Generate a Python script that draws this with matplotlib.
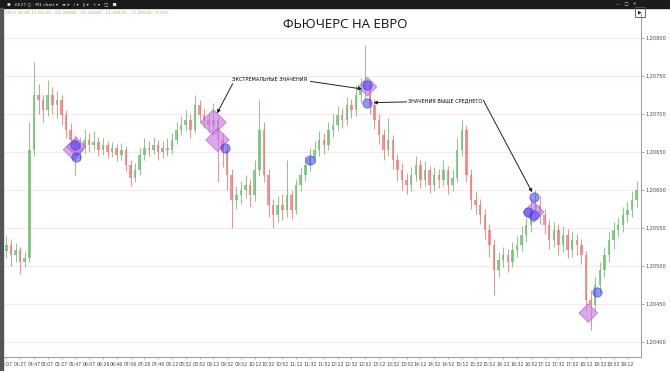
import numpy as np
import matplotlib.pyplot as plt
from matplotlib.patches import Rectangle

# candle data (M1 chart, one bar per ~7 min)
first_open = 1.20520
close = [1.20528, 1.20514, 1.20521, 1.20505, 1.20510, 1.20653, 1.20725, 1.20718, 1.20705, 1.20725,
         1.20712, 1.20718, 1.20699, 1.20679, 1.20666, 1.20650, 1.20655, 1.20666, 1.20659, 1.20663,
         1.20653, 1.20659, 1.20650, 1.20655, 1.20646, 1.20653, 1.20633, 1.20616, 1.20626, 1.20646,
         1.20655, 1.20653, 1.20659, 1.20650, 1.20655, 1.20653, 1.20666, 1.20679, 1.20686, 1.20692,
         1.20679, 1.20712, 1.20699, 1.20692, 1.20686, 1.20692, 1.20666, 1.20653, 1.20620, 1.20587,
         1.20593, 1.20600, 1.20607, 1.20593, 1.20626, 1.20679, 1.20620, 1.20580, 1.20567, 1.20580,
         1.20574, 1.20593, 1.20574, 1.20607, 1.20620, 1.20633, 1.20642, 1.20653, 1.20666, 1.20659,
         1.20679, 1.20686, 1.20699, 1.20692, 1.20712, 1.20705, 1.20725, 1.20732, 1.20738, 1.20712,
         1.20692, 1.20672, 1.20653, 1.20666, 1.20639, 1.20626, 1.20613, 1.20607, 1.20620, 1.20633,
         1.20613, 1.20626, 1.20607, 1.20620, 1.20613, 1.20626, 1.20607, 1.20616, 1.20653, 1.20679,
         1.20620, 1.20587, 1.20580, 1.20567, 1.20547, 1.20528, 1.20495, 1.20508, 1.20514, 1.20505,
         1.20521, 1.20528, 1.20541, 1.20554, 1.20574, 1.20580, 1.20567, 1.20554, 1.20534, 1.20547,
         1.20528, 1.20541, 1.20521, 1.20534, 1.20528, 1.20514, 1.20455, 1.20449, 1.20475, 1.20495,
         1.20514, 1.20534, 1.20547, 1.20554, 1.20567, 1.20574, 1.20587, 1.20600]
high = [1.20540, 1.20535, 1.20530, 1.20525, 1.20520, 1.20690, 1.20768, 1.20740, 1.20725, 1.20745,
        1.20735, 1.20730, 1.20725, 1.20705, 1.20688, 1.20672, 1.20670, 1.20680, 1.20675, 1.20678,
        1.20670, 1.20668, 1.20665, 1.20663, 1.20660, 1.20662, 1.20658, 1.20640, 1.20635, 1.20655,
        1.20668, 1.20665, 1.20670, 1.20666, 1.20664, 1.20668, 1.20675, 1.20690, 1.20698, 1.20705,
        1.20700, 1.20725, 1.20718, 1.20708, 1.20700, 1.20715, 1.20698, 1.20675, 1.20660, 1.20628,
        1.20605, 1.20612, 1.20620, 1.20615, 1.20640, 1.20718, 1.20690, 1.20628, 1.20588, 1.20592,
        1.20595, 1.20640, 1.20600, 1.20615, 1.20630, 1.20645, 1.20655, 1.20665, 1.20678, 1.20675,
        1.20690, 1.20700, 1.20710, 1.20708, 1.20722, 1.20720, 1.20738, 1.20748, 1.20791, 1.20745,
        1.20720, 1.20700, 1.20680, 1.20695, 1.20672, 1.20648, 1.20635, 1.20622, 1.20630, 1.20645,
        1.20640, 1.20638, 1.20632, 1.20630, 1.20628, 1.20640, 1.20632, 1.20628, 1.20668, 1.20692,
        1.20685, 1.20628, 1.20598, 1.20588, 1.20575, 1.20555, 1.20535, 1.20518, 1.20525, 1.20522,
        1.20532, 1.20540, 1.20552, 1.20565, 1.20590, 1.20600, 1.20592, 1.20575, 1.20562, 1.20558,
        1.20555, 1.20552, 1.20548, 1.20545, 1.20542, 1.20535, 1.20520, 1.20468, 1.20485, 1.20505,
        1.20525, 1.20545, 1.20558, 1.20565, 1.20578, 1.20585, 1.20598, 1.20612]
low = [1.20510, 1.20500, 1.20505, 1.20490, 1.20498, 1.20505, 1.20645, 1.20700, 1.20690, 1.20698,
       1.20700, 1.20695, 1.20685, 1.20668, 1.20655, 1.20620, 1.20640, 1.20648, 1.20650, 1.20652,
       1.20645, 1.20646, 1.20642, 1.20643, 1.20638, 1.20640, 1.20625, 1.20605, 1.20610, 1.20620,
       1.20640, 1.20645, 1.20648, 1.20640, 1.20642, 1.20645, 1.20648, 1.20660, 1.20672, 1.20678,
       1.20668, 1.20675, 1.20690, 1.20682, 1.20675, 1.20678, 1.20610, 1.20630, 1.20600, 1.20550,
       1.20575, 1.20582, 1.20590, 1.20578, 1.20585, 1.20618, 1.20610, 1.20565, 1.20550, 1.20558,
       1.20560, 1.20565, 1.20562, 1.20568, 1.20598, 1.20612, 1.20625, 1.20635, 1.20645, 1.20648,
       1.20652, 1.20670, 1.20678, 1.20682, 1.20685, 1.20695, 1.20698, 1.20715, 1.20720, 1.20700,
       1.20680, 1.20660, 1.20640, 1.20645, 1.20628, 1.20612, 1.20600, 1.20595, 1.20598, 1.20612,
       1.20602, 1.20605, 1.20596, 1.20598, 1.20602, 1.20605, 1.20595, 1.20598, 1.20610, 1.20645,
       1.20610, 1.20575, 1.20568, 1.20555, 1.20535, 1.20512, 1.20462, 1.20485, 1.20498, 1.20492,
       1.20498, 1.20512, 1.20520, 1.20532, 1.20545, 1.20565, 1.20555, 1.20542, 1.20522, 1.20525,
       1.20515, 1.20518, 1.20510, 1.20512, 1.20515, 1.20502, 1.20440, 1.20416, 1.20440, 1.20465,
       1.20485, 1.20505, 1.20522, 1.20538, 1.20545, 1.20558, 1.20565, 1.20578]

# highlighted points (bar index, price)
diamond_x = [14.6, 15.2, 45.0, 45.9, 78.5, 114.6, 126.5]
diamond_y = [1.20653, 1.20657, 1.20689, 1.20666, 1.20736, 1.20571, 1.20438]
diamond_s = [110, 90, 170, 140, 90, 110, 90]
circle_x = [15.0, 15.2, 47.6, 66.1, 78.5, 78.5, 113.5, 114.6, 114.6, 128.3]
circle_y = [1.20659, 1.20643, 1.20655, 1.20639, 1.20738, 1.20714, 1.20571, 1.20591, 1.20567, 1.20466]

time_labels = ["04:07", "04:27", "04:47", "05:07", "05:27", "05:47", "06:07", "06:26", "06:46",
               "07:06", "07:26", "07:46", "08:12", "08:32", "08:52", "09:12", "09:32", "09:52",
               "10:12", "10:32", "10:52", "11:12", "11:32", "11:52", "12:12", "12:32", "12:52",
               "13:12", "13:32", "13:52", "14:12", "14:32", "14:52", "15:12", "15:32", "15:52",
               "16:12", "16:32", "16:52", "17:12", "17:32", "17:52", "18:12", "18:32", "18:52",
               "19:12"]
price_ticks = [1.20800, 1.20750, 1.20700, 1.20650, 1.20600, 1.20550, 1.20500, 1.20450, 1.20400]

close = np.array(close)
high = np.array(high)
low = np.array(low)
opn = np.concatenate([[first_open], close[:-1]])
idx = np.arange(len(close))

fig = plt.figure(figsize=(6.7, 3.71), dpi=100)
ax = fig.add_axes([0.005, 0.038, 0.952, 0.924])

up = close >= opn
ax.vlines(idx[up], low[up], high[up], color='#5cb85c', lw=0.6, alpha=0.85, zorder=2)
ax.vlines(idx[~up], low[~up], high[~up], color='#f26565', lw=0.6, alpha=0.85, zorder=2)
bot = np.minimum(opn, close)
hgt = np.maximum(np.abs(close - opn), 0.000015)
ax.bar(idx[up], hgt[up], bottom=bot[up], width=0.55, color='#6cc46c', alpha=0.8, zorder=2)
ax.bar(idx[~up], hgt[~up], bottom=bot[~up], width=0.55, color='#f77a7a', alpha=0.8, zorder=2)

ax.scatter(diamond_x, diamond_y, s=diamond_s, marker='D', color='#c77ae6', alpha=0.65,
           edgecolors='#a050d0', linewidths=0.6, zorder=4)
ax.scatter(circle_x, circle_y, s=45, marker='o', color='#4a4af5', alpha=0.6,
           edgecolors='#3030d0', linewidths=0.6, zorder=5)

ax.set_xlim(-0.65, 138.0)
ax.set_ylim(1.203802, 1.208316)

ax.set_xticks(np.arange(len(time_labels)) * 3)
ax.set_xticklabels(time_labels, fontsize=3.3, color='#444444')
ax.set_xticks(np.arange(3, 138, 6), minor=True)
ax.yaxis.tick_right()
ax.set_yticks(price_ticks)
ax.set_yticklabels([("%.5f" % p).replace('.', ',') for p in price_ticks], fontsize=3.6, color='#444444')
ax.tick_params(axis='y', length=2, width=0.5, pad=1, color='#888888')
ax.tick_params(axis='x', length=1.5, width=0.4, pad=2, color='#888888')
ax.tick_params(axis='x', which='minor', length=0)

ax.grid(True, axis='y', color='#f6e4e9', lw=0.6)
ax.grid(True, axis='x', which='minor', color='#f6e4e9', lw=0.6)
ax.set_axisbelow(True)
for s in ['top', 'left']:
    ax.spines[s].set_visible(False)
ax.spines['right'].set_color('#999999')
ax.spines['bottom'].set_color('#999999')
ax.spines['right'].set_linewidth(0.7)
ax.spines['bottom'].set_linewidth(0.7)

# title and annotations
fig.text(0.515, 0.933, "ФЬЮЧЕРС НА ЕВРО", ha='center', va='center', fontsize=9.5,
         family='Open Sans', color='#111111')
arr = dict(arrowstyle='-|>', color='#222222', lw=0.7, mutation_scale=5, shrinkA=0, shrinkB=0)
ax.text(49.1, 1.20746, "ЭКСТРЕМАЛЬНЫЕ ЗНАЧЕНИЯ", fontsize=3.6, va='center', ha='left', zorder=6)
ax.annotate("", xy=(45.8, 1.20701), xytext=(49.2, 1.20740), arrowprops=arr, zorder=6)
ax.annotate("", xy=(77.3, 1.20733), xytext=(66.1, 1.20743), arrowprops=arr, zorder=6)
ax.text(87.4, 1.20717, "ЗНАЧЕНИЯ ВЫШЕ СРЕДНЕГО", fontsize=3.6, va='center', ha='left', zorder=6)
ax.annotate("", xy=(79.8, 1.20715), xytext=(87.0, 1.20716), arrowprops=arr, zorder=6)
ax.annotate("", xy=(114.3, 1.20597), xytext=(103.7, 1.20718), arrowprops=arr, zorder=6)

# window chrome: toolbar + info line
fig.patches.append(Rectangle((0, 0.978), 1, 0.022, transform=fig.transFigure,
                             color='#1a1a1a', zorder=0))
fig.patches.append(Rectangle((0, 0), 0.004, 0.978, transform=fig.transFigure,
                             color='#555555', zorder=0))
fig.text(0.01, 0.989, "\u25cf   6E27 \u25cb   M1 chart \u25be   \u2261 \u25be   \u2215 \u25be   \u2225 \u25be   + \u25be   \u25a1   \u25a0",
         fontsize=3.2, color='#dddddd', va='center')
fig.text(0.92, 0.989, "\u2014   \u25a1   \u2715", fontsize=3.2, color='#dddddd', va='center')
fig.text(0.008, 0.966, "2017.28.08 17:55:00   O1,20580   H1,20580   L1,20525   C1,20530   V:237",
         fontsize=3.2, color='#d4a040', va='center')
fig.patches.append(Rectangle((0.948, 0.955), 0.014, 0.025, transform=fig.transFigure,
                             fill=False, ec='#555555', lw=0.6, zorder=3))
fig.text(0.955, 0.9675, "\u25b6", fontsize=3.5, color='#222222', ha='center', va='center')

plt.savefig("out.png", dpi=100)
